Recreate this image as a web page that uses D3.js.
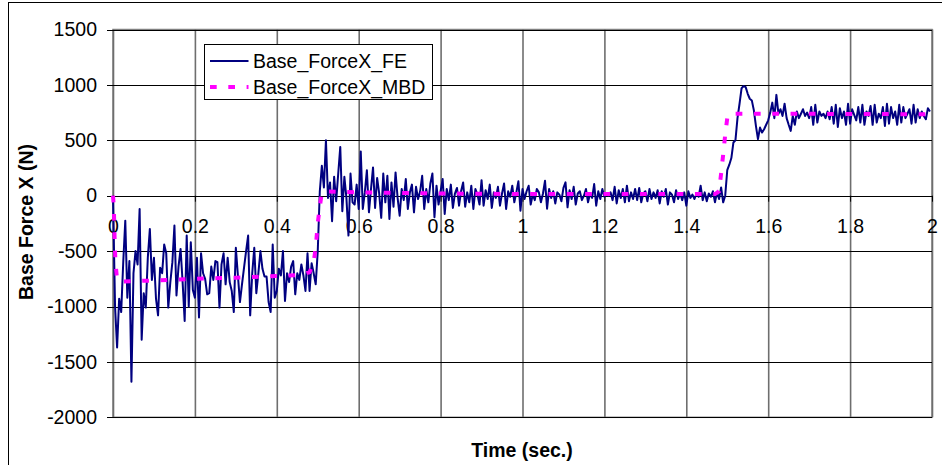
<!DOCTYPE html>
<html>
<head>
<meta charset="utf-8">
<script src="https://cdn.jsdelivr.net/npm/d3@7"></script>
<style>
  body { margin: 0; background: #fff; }
  text { font-family: "Liberation Sans", Arial, sans-serif; }
</style>
</head>
<body>
<script>
// tick values
const xTicks = [0, 0.2, 0.4, 0.6, 0.8, 1, 1.2, 1.4, 1.6, 1.8, 2];
const yTicks = [-2000, -1500, -1000, -500, 0, 500, 1000, 1500];
const seriesNames = ['Base_ForceX_FE', 'Base_ForceX_MBD'];

// FE signal, one sample every 0.005 s starting at t = 0 (10 samples per row)
const feStart = 0;
const feStep = 0.005;
const feValues = [
  0, -1000, -1370, -930, -1050, -600, -225, -920, -590, -1680,
  -700, -500, -620, -120, -1300, -880, -1010, -560, -300, -760,
  -560, -930, -1080, -650, -700, -440, -520, -1010, -780, -600,
  -270, -900, -640, -480, -780, -1130, -360, -1000, -420, -850,
  -920, -560, -1100, -520, -700, -750, -890, -880, -640, -760,
  -590, -600, -1010, -620, -520, -800, -560, -780, -860, -1050,
  -470, -720, -960, -800, -650, -500, -360, -1080, -700, -470,
  -880, -700, -500, -660, -730, -730, -960, -1050, -440, -920,
  -860, -660, -720, -500, -950, -700, -780, -640, -590, -890,
  -700, -760, -620, -720, -860, -520, -860, -610, -700, -800,
  -500, 40, 270, 75, 500, -20, 120, -230, 170, -50,
  200, 440, -140, 170, -20, -360, 200, -60, -80, 100,
  -120, 400, -120, 30, 230, -150, 60, 255, -110, 160,
  20, -200, 200, -60, 180, -210, 120, -100, 210, -20,
  -180, 60, -40, 150, -120, 30, 100, -150, 80, -30,
  40, 180, -120, 60, -60, 110, 200, -195, 90, -80,
  40, 150, -165, 60, -40, 100, -110, 20, 70, -90,
  40, 120, -100, 30, -60, 90, -120, 60, 10, -80,
  140, -90, 50, -30, 100, -110, 30, -20, 80, -90,
  20, 110, -120, 40, -10, 90, -60, 30, 130, -135,
  60, -30, 40, 90, -80, 10, -40, 60, 30, -60,
  20, 135, -117, 60, -20, 40, -70, 30, 10, -50,
  70, 120, -105, 50, -30, 80, -80, 20, 40, -40,
  0, 60, -60, 20, -20, 105, -90, 40, -30, 60,
  -10, 20, 0, 30, -40, 80, -70, 50, -20, 60,
  -60, 90, -50, 30, -30, 60, -40, 70, -60, 20,
  40, -50, 60, -30, 30, -20, 50, -70, 40, -10,
  60, -80, 30, 10, -60, 50, -30, 20, -40, 30,
  -90, 40, -20, 10, -30, 20, -10, 90, -40, 30,
  -50, 20, -10, 40, -60, 30, -30, 75, -60, 0,
  230, 280, 340, 480, 500, 700, 830, 970, 990, 980,
  920, 875, 860, 770, 630, 510, 615, 570, 600, 640,
  680, 750, 840, 700, 910, 740, 780, 720, 830, 700,
  640, 585, 720, 640, 760, 700, 740, 780, 720, 750,
  700, 800, 640, 820, 660, 760, 720, 740, 700, 760,
  690, 800, 650, 820, 620, 790, 700, 760, 640, 830,
  650, 780, 730, 680, 800, 660, 820, 640, 760, 720,
  810, 640, 820, 660, 740, 700, 800, 630, 830, 650,
  800, 700, 760, 640, 820, 660, 800, 700, 740, 780,
  650, 820, 660, 780, 700, 760, 720, 690, 790, 760,
];

// MBD signal, breakpoints
const mbdTimes = [0, 0.002, 0.004, 0.006, 0.01, 0.02, 0.1, 0.2, 0.3, 0.4, 0.46, 0.48, 0.49,
  0.495, 0.5, 0.505, 0.51, 0.52, 0.6, 0.8, 1.0, 1.2, 1.47, 1.48, 1.485, 1.49, 1.495, 1.5,
  1.505, 1.6, 2.0];
const mbdValues = [0, -100, -400, -600, -760, -775, -765, -750, -740, -725, -715, -690, -600,
  -470, -250, -100, 30, 38, 30, 20, 15, 15, 15, 40, 200, 370, 550, 700,
  740, 740, 735];

const width = 942;
const height = 465;
const plot = { left: 113, right: 932, top: 29.5, bottom: 417.3 };
const fontSize = 19.5;

const feData = feValues.map((v, i) => ({ t: feStart + i * feStep, v }));
const mbdData = mbdTimes.map((t, i) => ({ t, v: mbdValues[i] }));

const svg = d3.select('body').append('svg')
  .attr('width', width)
  .attr('height', height);

// outer chart frame
svg.append('rect')
  .attr('x', 8.5).attr('y', 2.5)
  .attr('width', 960).attr('height', 480)
  .attr('fill', '#fff').attr('stroke', '#000').attr('stroke-width', 1);

const x = d3.scaleLinear().domain([0, 2]).range([plot.left, plot.right]);
const y = d3.scaleLinear().domain([-2000, 1500]).range([plot.bottom, plot.top]);
const plotW = plot.right - plot.left;
const plotH = plot.bottom - plot.top;

// plot area border
svg.append('rect')
  .attr('x', plot.left).attr('y', plot.top)
  .attr('width', plotW).attr('height', plotH)
  .attr('fill', 'none').attr('stroke', '#808080').attr('stroke-width', 1.5);

// vertical gridlines
svg.append('g')
  .attr('transform', `translate(0,${plot.bottom})`)
  .call(d3.axisBottom(x).tickValues(xTicks).tickSize(-plotH).tickFormat(''))
  .call(g => g.select('.domain').remove())
  .call(g => g.selectAll('line').attr('stroke', '#6e6e6e').attr('stroke-width', 1.6));

// horizontal gridlines plus tick marks on the left (plain hyphen minus, as in the original)
svg.append('g')
  .attr('transform', `translate(${plot.left},0)`)
  .call(d3.axisLeft(y).tickValues(yTicks).tickSize(6).tickPadding(10)
    .tickFormat(d => String(d)))
  .call(g => g.select('.domain').remove())
  .call(g => g.selectAll('line').attr('x2', plotW).attr('x1', -6)
    .attr('stroke', '#000').attr('stroke-width', 1).attr('shape-rendering', 'crispEdges'))
  .call(g => g.selectAll('text').attr('font-size', fontSize).attr('fill', '#000')
    .attr('font-family', '"Liberation Sans", Arial, sans-serif'));

// x axis through zero with labels below it
svg.append('g')
  .attr('transform', `translate(0,${y(0)})`)
  .call(d3.axisBottom(x).tickValues(xTicks).tickSize(6).tickPadding(17)
    .tickFormat(d => String(d)))
  .call(g => g.select('.domain').remove())
  .call(g => g.selectAll('line').attr('stroke', '#000'))
  .call(g => g.selectAll('text').attr('font-size', fontSize).attr('fill', '#000')
    .attr('font-family', '"Liberation Sans", Arial, sans-serif'));

const line = d3.line().x(d => x(d.t)).y(d => y(d.v));

svg.append('path')
  .datum(feData)
  .attr('d', line)
  .attr('fill', 'none')
  .attr('stroke', '#000080')
  .attr('stroke-width', 2)
  .attr('stroke-linejoin', 'round');

svg.append('path')
  .datum(mbdData)
  .attr('d', line)
  .attr('fill', 'none')
  .attr('stroke', '#ff00ff')
  .attr('stroke-width', 4)
  .attr('stroke-dasharray', '6.7 11.6');

// axis titles
svg.append('text')
  .attr('x', 522).attr('y', 457)
  .attr('text-anchor', 'middle')
  .attr('font-size', fontSize).attr('font-weight', 'bold')
  .text('Time (sec.)');

svg.append('text')
  .attr('transform', 'translate(33,222) rotate(-90)')
  .attr('text-anchor', 'middle')
  .attr('font-size', fontSize).attr('font-weight', 'bold')
  .text('Base Force X (N)');

// legend
const legend = svg.append('g');
legend.append('rect')
  .attr('x', 204.5).attr('y', 44.5)
  .attr('width', 228).attr('height', 55)
  .attr('fill', '#fff').attr('stroke', '#000').attr('stroke-width', 1);

const legendStyles = [
  { stroke: '#000080', width: 2, dash: null },
  { stroke: '#ff00ff', width: 4, dash: '6.7 11.6' },
];
seriesNames.forEach((name, i) => {
  const cy = 61 + i * 26;
  legend.append('line')
    .attr('x1', 210).attr('x2', 248.5)
    .attr('y1', cy).attr('y2', cy)
    .attr('stroke', legendStyles[i].stroke)
    .attr('stroke-width', legendStyles[i].width)
    .attr('stroke-dasharray', legendStyles[i].dash);
  legend.append('text')
    .attr('x', 253).attr('y', cy + 7)
    .attr('font-size', fontSize)
    .text(name);
});
</script>
</body>
</html>
